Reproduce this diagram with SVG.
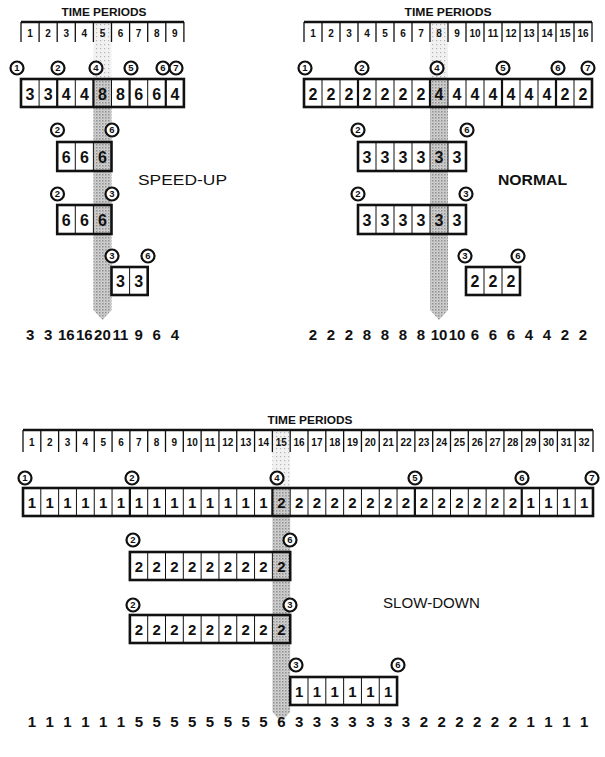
<svg xmlns="http://www.w3.org/2000/svg" width="605" height="757" viewBox="0 0 605 757">
<defs>
<pattern id="stipD" width="3" height="3" patternUnits="userSpaceOnUse"><rect width="3" height="3" fill="#d2d2d2"/><rect width="1.5" height="1.5" fill="#8e8e8e"/><rect x="1.5" y="1.5" width="1" height="1" fill="#a8a8a8"/></pattern>
<pattern id="stipL" width="4" height="4" patternUnits="userSpaceOnUse"><rect width="4" height="4" fill="#f1f1f1"/><rect width="1.2" height="1.2" fill="#b5b5b5"/></pattern>
</defs>
<style>
text{font-family:"Liberation Sans",Arial,sans-serif;fill:#111;}
.title{font-size:10.5px;font-weight:bold;text-anchor:middle;}
.pn{font-size:10px;font-weight:bold;text-anchor:middle;}
.d{font-size:16px;font-weight:bold;text-anchor:middle;}
.d2{font-size:15px;font-weight:bold;text-anchor:middle;}
.sum{font-size:15px;font-weight:bold;text-anchor:middle;}
.lab{font-size:14px;}
.labb{font-size:14px;font-weight:bold;}
.frame{fill:none;stroke:#111;stroke-width:2.6;}
.top{fill:none;stroke:#111;stroke-width:2.6;}
.pv{fill:none;stroke:#111;stroke-width:1.3;}
.gd{fill:none;stroke:#111;stroke-width:2.2;}
.tk{fill:none;stroke:#111;stroke-width:1;}
.ev circle{fill:#fff;stroke:#111;stroke-width:2.2;}
.ev text{font-size:9.5px;font-weight:bold;text-anchor:middle;}
.bandD{fill:url(#stipD);}
.bandL{fill:url(#stipL);}
</style>
<rect width="605" height="757" fill="#fff"/>

<!-- bands -->
<g id="bands">
<rect class="bandL" x="93.4" y="22" width="18.1" height="57"/>
<path class="bandD" d="M93.4 79H111.5V310L102.45 320L93.4 310Z"/>
<rect class="bandL" x="430" y="22" width="18" height="57"/>
<path class="bandD" d="M430 79H448V310L439 320L430 310Z"/>
<rect class="bandL" x="272.38" y="430" width="17.81" height="58"/>
<path class="bandD" d="M272.38 488H290.19V712L281.3 722L272.38 712Z"/>
</g>

<g id="connectors"></g>

<!-- ===== SPEED-UP ===== -->
<g id="su-periods">
<text class="title" x="104" y="16" textLength="85" lengthAdjust="spacingAndGlyphs">TIME PERIODS</text>
<path class="top" d="M21 22H184"/>
<path class="pv" d="M21 22V42M39.1 22V42M57.2 22V42M75.3 22V42M93.4 22V42M111.5 22V42M129.6 22V42M147.7 22V42M165.8 22V42M183.9 22V42"/>
<text class="pn" x="30.05 48.15 66.25 84.35 102.45 120.55 138.65 156.75 174.85" y="36.5">123456789</text>
</g>
<g id="su-events">
<g class="ev"><circle cx="17" cy="68" r="6.5"/><text x="17" y="71.4">1</text></g>
<g class="ev"><circle cx="58" cy="68" r="6.5"/><text x="58" y="71.4">2</text></g>
<g class="ev"><circle cx="96" cy="68" r="6.5"/><text x="96" y="71.4">4</text></g>
<g class="ev"><circle cx="131" cy="68" r="6.5"/><text x="131" y="71.4">5</text></g>
<g class="ev"><circle cx="163" cy="68" r="6.5"/><text x="163" y="71.4">6</text></g>
<g class="ev"><circle cx="176" cy="68" r="6.5"/><text x="176" y="71.4">7</text></g>
</g>
<g id="su-main">
<rect class="frame" x="21" y="79" width="162.9" height="28"/>
<path class="gd" d="M57.2 79V107M93.4 79V107M129.6 79V107M165.8 79V107"/>
<path class="tk" d="M39.1 79V107M75.3 79V107M111.5 79V107M147.7 79V107"/>
<text class="d" x="30.05 48.15 66.25 84.35 102.45 120.55 138.65 156.75 174.85" y="99.5">334488664</text>
</g>
<g id="su-bar1">
<g class="ev"><circle cx="57.5" cy="130" r="6.5"/><text x="57.5" y="133.4">2</text></g>
<g class="ev"><circle cx="112" cy="130" r="6.5"/><text x="112" y="133.4">6</text></g>
<rect class="frame" x="57.2" y="142" width="54.3" height="29"/>
<path class="tk" d="M75.3 142V171M93.4 142V171"/>
<text class="d" x="66.25 84.35 102.45" y="162.5">666</text>
</g>
<g id="su-bar2">
<g class="ev"><circle cx="57.5" cy="194" r="6.5"/><text x="57.5" y="197.4">2</text></g>
<g class="ev"><circle cx="112" cy="194" r="6.5"/><text x="112" y="197.4">3</text></g>
<rect class="frame" x="57.2" y="205" width="54.3" height="29"/>
<path class="tk" d="M75.3 205V234M93.4 205V234"/>
<text class="d" x="66.25 84.35 102.45" y="225.5">666</text>
</g>
<g id="su-bar3">
<g class="ev"><circle cx="112" cy="256" r="6.5"/><text x="112" y="259.4">3</text></g>
<g class="ev"><circle cx="148" cy="256" r="6.5"/><text x="148" y="259.4">6</text></g>
<rect class="frame" x="111.5" y="267" width="36.2" height="28"/>
<path class="tk" d="M129.6 267V295"/>
<text class="d" x="120.55 138.65" y="287">33</text>
</g>
<g id="su-label"><text class="lab" x="138" y="185" textLength="89" lengthAdjust="spacingAndGlyphs">SPEED-UP</text></g>
<g id="su-totals">
<text class="sum" y="340"><tspan x="30.05">3</tspan><tspan x="48.15">3</tspan><tspan x="66.25">16</tspan><tspan x="84.35">16</tspan><tspan x="102.45">20</tspan><tspan x="120.55">11</tspan><tspan x="138.65">9</tspan><tspan x="156.75">6</tspan><tspan x="174.85">4</tspan></text>
</g>

<!-- ===== NORMAL ===== -->
<g id="nr-periods">
<text class="title" x="448" y="16" textLength="87" lengthAdjust="spacingAndGlyphs">TIME PERIODS</text>
<path class="top" d="M304 22H592"/>
<path class="pv" d="M304 22V42M322 22V42M340 22V42M358 22V42M376 22V42M394 22V42M412 22V42M430 22V42M448 22V42M466 22V42M484 22V42M502 22V42M520 22V42M538 22V42M556 22V42M574 22V42M592 22V42"/>
<text class="pn" y="36.5"><tspan x="313">1</tspan><tspan x="331">2</tspan><tspan x="349">3</tspan><tspan x="367">4</tspan><tspan x="385">5</tspan><tspan x="403">6</tspan><tspan x="421">7</tspan><tspan x="439">8</tspan><tspan x="457">9</tspan><tspan x="475">10</tspan><tspan x="493">11</tspan><tspan x="511">12</tspan><tspan x="529">13</tspan><tspan x="547">14</tspan><tspan x="565">15</tspan><tspan x="583">16</tspan></text>
</g>
<g id="nr-events">
<g class="ev"><circle cx="305" cy="68" r="6.5"/><text x="305" y="71.4">1</text></g>
<g class="ev"><circle cx="362" cy="68" r="6.5"/><text x="362" y="71.4">2</text></g>
<g class="ev"><circle cx="437" cy="68" r="6.5"/><text x="437" y="71.4">4</text></g>
<g class="ev"><circle cx="503" cy="68" r="6.5"/><text x="503" y="71.4">5</text></g>
<g class="ev"><circle cx="558" cy="68" r="6.5"/><text x="558" y="71.4">6</text></g>
<g class="ev"><circle cx="588" cy="68" r="6.5"/><text x="588" y="71.4">7</text></g>
</g>
<g id="nr-main">
<rect class="frame" x="304" y="79" width="288" height="28"/>
<path class="gd" d="M358 79V107M430 79V107M502 79V107M556 79V107"/>
<path class="tk" d="M322 79V107M340 79V107M376 79V107M394 79V107M412 79V107M448 79V107M466 79V107M484 79V107M520 79V107M538 79V107M574 79V107"/>
<text class="d" x="313 331 349 367 385 403 421 439 457 475 493 511 529 547 565 583" y="99.5">2222222444444422</text>
</g>
<g id="nr-bar1">
<g class="ev"><circle cx="358" cy="130" r="6.5"/><text x="358" y="133.4">2</text></g>
<g class="ev"><circle cx="467" cy="130" r="6.5"/><text x="467" y="133.4">6</text></g>
<rect class="frame" x="358" y="142" width="108" height="29"/>
<path class="tk" d="M376 142V171M394 142V171M412 142V171M430 142V171M448 142V171"/>
<text class="d" x="367 385 403 421 439 457" y="162.5">333333</text>
</g>
<g id="nr-bar2">
<g class="ev"><circle cx="358" cy="194" r="6.5"/><text x="358" y="197.4">2</text></g>
<g class="ev"><circle cx="466" cy="194" r="6.5"/><text x="466" y="197.4">3</text></g>
<rect class="frame" x="358" y="205" width="108" height="29"/>
<path class="tk" d="M376 205V234M394 205V234M412 205V234M430 205V234M448 205V234"/>
<text class="d" x="367 385 403 421 439 457" y="225.5">333333</text>
</g>
<g id="nr-bar3">
<g class="ev"><circle cx="465" cy="256" r="6.5"/><text x="465" y="259.4">3</text></g>
<g class="ev"><circle cx="518" cy="256" r="6.5"/><text x="518" y="259.4">6</text></g>
<rect class="frame" x="466" y="267" width="54" height="28"/>
<path class="tk" d="M484 267V295M502 267V295"/>
<text class="d" x="475 493 511" y="287">222</text>
</g>
<g id="nr-label"><text class="labb" x="498" y="185" textLength="69" lengthAdjust="spacingAndGlyphs">NORMAL</text></g>
<g id="nr-totals">
<text class="sum" y="340"><tspan x="313">2</tspan><tspan x="331">2</tspan><tspan x="349">2</tspan><tspan x="367">8</tspan><tspan x="385">8</tspan><tspan x="403">8</tspan><tspan x="421">8</tspan><tspan x="439">10</tspan><tspan x="457">10</tspan><tspan x="475">6</tspan><tspan x="493">6</tspan><tspan x="511">6</tspan><tspan x="529">4</tspan><tspan x="547">4</tspan><tspan x="565">2</tspan><tspan x="583">2</tspan></text>
</g>

<!-- ===== SLOW-DOWN ===== -->
<g id="sd-periods">
<text class="title" x="310" y="424" textLength="85" lengthAdjust="spacingAndGlyphs">TIME PERIODS</text>
<path class="top" d="M23 430H593"/>
<path class="pv" d="M23 430V452M40.81 430V452M58.63 430V452M76.44 430V452M94.25 430V452M112.06 430V452M129.88 430V452M147.69 430V452M165.5 430V452M183.31 430V452M201.13 430V452M218.94 430V452M236.75 430V452M254.56 430V452M272.38 430V452M290.19 430V452M308 430V452M325.81 430V452M343.63 430V452M361.44 430V452M379.25 430V452M397.06 430V452M414.88 430V452M432.69 430V452M450.5 430V452M468.31 430V452M486.13 430V452M503.94 430V452M521.75 430V452M539.56 430V452M557.38 430V452M575.19 430V452M593 430V452"/>
<text class="pn" y="445.5"><tspan x="31.9">1</tspan><tspan x="49.7">2</tspan><tspan x="67.5">3</tspan><tspan x="85.3">4</tspan><tspan x="103.2">5</tspan><tspan x="121">6</tspan><tspan x="138.8">7</tspan><tspan x="156.6">8</tspan><tspan x="174.4">9</tspan><tspan x="192.2">10</tspan><tspan x="210">11</tspan><tspan x="227.8">12</tspan><tspan x="245.7">13</tspan><tspan x="263.5">14</tspan><tspan x="281.3">15</tspan><tspan x="299.1">16</tspan><tspan x="316.9">17</tspan><tspan x="334.7">18</tspan><tspan x="352.5">19</tspan><tspan x="370.3">20</tspan><tspan x="388.2">21</tspan><tspan x="406">22</tspan><tspan x="423.8">23</tspan><tspan x="441.6">24</tspan><tspan x="459.4">25</tspan><tspan x="477.2">26</tspan><tspan x="495">27</tspan><tspan x="512.8">28</tspan><tspan x="530.7">29</tspan><tspan x="548.5">30</tspan><tspan x="566.3">31</tspan><tspan x="584.1">32</tspan></text>
</g>
<g id="sd-events">
<g class="ev"><circle cx="25" cy="478" r="6.5"/><text x="25" y="481.4">1</text></g>
<g class="ev"><circle cx="132" cy="478" r="6.5"/><text x="132" y="481.4">2</text></g>
<g class="ev"><circle cx="277" cy="478" r="6.5"/><text x="277" y="481.4">4</text></g>
<g class="ev"><circle cx="415" cy="478" r="6.5"/><text x="415" y="481.4">5</text></g>
<g class="ev"><circle cx="522" cy="478" r="6.5"/><text x="522" y="481.4">6</text></g>
<g class="ev"><circle cx="592" cy="478" r="6.5"/><text x="592" y="481.4">7</text></g>
</g>
<g id="sd-main">
<rect class="frame" x="23" y="488" width="570" height="28"/>
<path class="gd" d="M129.88 488V516M272.38 488V516M414.88 488V516M521.75 488V516"/>
<path class="tk" d="M40.81 488V516M58.63 488V516M76.44 488V516M94.25 488V516M112.06 488V516M147.69 488V516M165.5 488V516M183.31 488V516M201.13 488V516M218.94 488V516M236.75 488V516M254.56 488V516M290.19 488V516M308 488V516M325.81 488V516M343.63 488V516M361.44 488V516M379.25 488V516M397.06 488V516M432.69 488V516M450.5 488V516M468.31 488V516M486.13 488V516M503.94 488V516M539.56 488V516M557.38 488V516M575.19 488V516"/>
<text class="d2" x="31.9 49.7 67.5 85.3 103.2 121 138.8 156.6 174.4 192.2 210 227.8 245.7 263.5 281.3 299.1 316.9 334.7 352.5 370.3 388.2 406 423.8 441.6 459.4 477.2 495 512.8 530.7 548.5 566.3 584.1" y="508">11111111111111222222222222221111</text>
</g>
<g id="sd-bar1">
<g class="ev"><circle cx="133" cy="540" r="6.5"/><text x="133" y="543.4">2</text></g>
<g class="ev"><circle cx="290" cy="540" r="6.5"/><text x="290" y="543.4">6</text></g>
<rect class="frame" x="129.88" y="552" width="160.31" height="28"/>
<path class="tk" d="M147.69 552V580M165.5 552V580M183.31 552V580M201.13 552V580M218.94 552V580M236.75 552V580M254.56 552V580M272.38 552V580"/>
<text class="d2" x="138.8 156.6 174.4 192.2 210 227.8 245.7 263.5 281.3" y="572">222222222</text>
</g>
<g id="sd-bar2">
<g class="ev"><circle cx="133" cy="605" r="6.5"/><text x="133" y="608.4">2</text></g>
<g class="ev"><circle cx="290" cy="605" r="6.5"/><text x="290" y="608.4">3</text></g>
<rect class="frame" x="129.88" y="615" width="160.31" height="28"/>
<path class="tk" d="M147.69 615V643M165.5 615V643M183.31 615V643M201.13 615V643M218.94 615V643M236.75 615V643M254.56 615V643M272.38 615V643"/>
<text class="d2" x="138.8 156.6 174.4 192.2 210 227.8 245.7 263.5 281.3" y="635">222222222</text>
</g>
<g id="sd-bar3">
<g class="ev"><circle cx="296" cy="665" r="6.5"/><text x="296" y="668.4">3</text></g>
<g class="ev"><circle cx="398" cy="665" r="6.5"/><text x="398" y="668.4">6</text></g>
<rect class="frame" x="290.19" y="677" width="106.87" height="28"/>
<path class="tk" d="M308 677V705M325.81 677V705M343.63 677V705M361.44 677V705M379.25 677V705"/>
<text class="d2" x="299.1 316.9 334.7 352.5 370.3 388.2" y="697">111111</text>
</g>
<g id="sd-label"><text class="lab" x="383" y="608" textLength="97" lengthAdjust="spacingAndGlyphs">SLOW-DOWN</text></g>
<g id="sd-totals">
<text class="sum" x="31.9 49.7 67.5 85.3 103.2 121 138.8 156.6 174.4 192.2 210 227.8 245.7 263.5 281.3 299.1 316.9 334.7 352.5 370.3 388.2 406 423.8 441.6 459.4 477.2 495 512.8 530.7 548.5 566.3 584.1" y="727">11111155555555633333332222221111</text>
</g>
</svg>
